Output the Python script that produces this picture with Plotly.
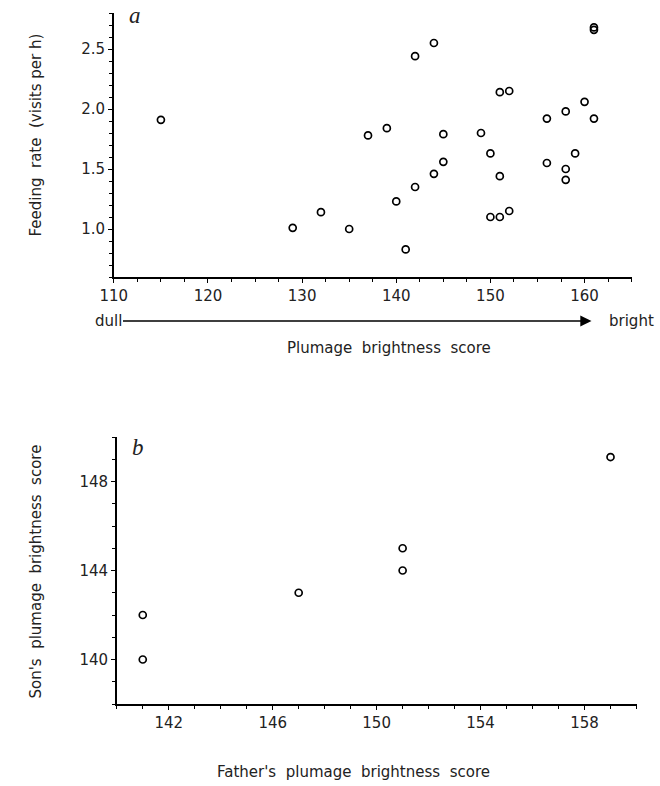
import plotly.graph_objects as go

# Panel a: plumage brightness vs feeding rate
feed_x = [115, 129, 132, 135, 137, 139, 140, 141, 142, 142, 144, 144, 145, 145, 149,
          150, 150, 151, 151, 151, 152, 152, 156, 156, 158, 158, 158, 159, 160, 161, 161, 161]
feed_y = [1.91, 1.01, 1.14, 1.00, 1.78, 1.84, 1.23, 0.83, 2.44, 1.35, 2.55, 1.46, 1.79, 1.56, 1.80,
          1.63, 1.10, 2.14, 1.44, 1.10, 2.15, 1.15, 1.92, 1.55, 1.98, 1.50, 1.41, 1.63, 2.06, 1.92, 2.68, 2.66]

# Panel b: father vs son plumage brightness
father = [141, 141, 147, 151, 151, 159]
son = [142, 140, 143, 145, 144, 149.1]

a_xticks = [110, 120, 130, 140, 150, 160]
a_yticks = [1.0, 1.5, 2.0, 2.5]
b_xticks = [142, 146, 150, 154, 158]
b_yticks = [140, 144, 148]

W, H = 660, 786
FONT = "DejaVu Sans, Liberation Sans, sans-serif"

def px(x):
    return x / W

def py(y):
    return 1 - y / H

marker = dict(symbol="circle-open", size=7, color="black", line=dict(width=1.7, color="black"))

fig = go.Figure()
fig.add_trace(go.Scatter(x=feed_x, y=feed_y, mode="markers", marker=marker,
                         xaxis="x", yaxis="y", showlegend=False))
fig.add_trace(go.Scatter(x=father, y=son, mode="markers", marker=marker,
                         xaxis="x2", yaxis="y2", showlegend=False))

axis_common = dict(showline=True, linecolor="black", linewidth=1.5, showgrid=False,
                   zeroline=False, ticks="outside", ticklen=4, tickwidth=1.2, tickcolor="black",
                   tickfont=dict(family=FONT, size=15, color="#222"))

fig.update_layout(
    width=W, height=H, autosize=False,
    margin=dict(l=0, r=0, t=0, b=0),
    paper_bgcolor="white", plot_bgcolor="white",
    xaxis=dict(domain=[px(102), px(631)], range=[110, 165], anchor="y",
               tickvals=a_xticks, ticktext=[str(v) for v in a_xticks],
               minor=dict(dtick=2.5, tick0=110, ticks="outside", ticklen=3, tickcolor="black", showgrid=False),
               **axis_common),
    yaxis=dict(domain=[py(277), py(13)], range=[0.6, 2.8], anchor="x",
               tickvals=a_yticks, ticktext=[f"{v:.1f}" for v in a_yticks],
               minor=dict(dtick=0.1, tick0=0.6, ticks="outside", ticklen=3, tickcolor="black", showgrid=False),
               **axis_common),
    xaxis2=dict(domain=[px(105), px(636)], range=[140, 160], anchor="y2",
                tickvals=b_xticks, ticktext=[str(v) for v in b_xticks],
                minor=dict(dtick=1, tick0=140, ticks="outside", ticklen=3, tickcolor="black", showgrid=False),
                **axis_common),
    yaxis2=dict(domain=[py(704), py(437)], range=[138, 150], anchor="x2",
                tickvals=b_yticks, ticktext=[str(v) for v in b_yticks],
                minor=dict(dtick=1, tick0=138, ticks="outside", ticklen=3, tickcolor="black", showgrid=False),
                **axis_common),
)

title_font = dict(family=FONT, size=15, color="#222")
annots = [
    dict(text="Feeding  rate  (visits per h)", x=px(22), y=py(135), textangle=-90, font=title_font),
    dict(text="Plumage  brightness  score", x=px(383), y=py(348), font=title_font),
    dict(text="dull", x=px(97), y=py(321), font=title_font),
    dict(text="bright", x=px(631), y=py(321), font=title_font),
    dict(text="Son's  plumage  brightness  score", x=px(22), y=py(572), textangle=-90, font=title_font),
    dict(text="Father's  plumage  brightness  score", x=px(347), y=py(772), font=title_font),
    dict(text="<i>a</i>", x=px(124), y=py(16), font=dict(family="Liberation Serif, serif", size=23, color="#222")),
    dict(text="<i>b</i>", x=px(127), y=py(447), font=dict(family="Liberation Serif, serif", size=23, color="#222")),
]
for a in annots:
    fig.add_annotation(xref="paper", yref="paper", showarrow=False,
                       xanchor="center", yanchor="middle", **a)

# dull -> bright arrow
fig.add_annotation(xref="paper", yref="paper", x=px(590), y=py(321), text="",
                   showarrow=True, axref="pixel", ayref="pixel", ax=-470, ay=0,
                   arrowhead=2, arrowsize=1.4, arrowwidth=1.6, arrowcolor="black")

fig.write_html("out.html", config={"displayModeBar": False},
               post_script="document.body.style.margin='0';document.body.style.overflow='hidden';")
